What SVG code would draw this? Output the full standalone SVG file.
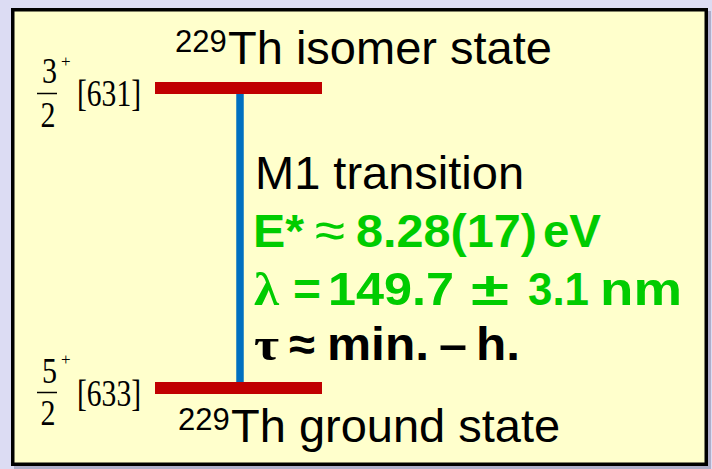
<svg xmlns="http://www.w3.org/2000/svg" width="712" height="469" viewBox="0 0 712 469">
<style>
.sans{font-family:"Liberation Sans",Arial,sans-serif;fill:#000}
.serif{font-family:"Liberation Serif","Times New Roman",serif;fill:#000}
.big{font-size:47px}
.sup{font-size:31px}
.b{font-weight:bold;font-size:46px}
.g{fill:#00cc00}
.spin{font-size:30px}
.plus{font-size:17px}
.bar{fill:#c00000}
.frac{stroke:#000;stroke-width:1.5}
</style>
<rect x="0" y="0" width="712" height="469" fill="#dcdcf3"/>
<rect x="14" y="11" width="697" height="458" fill="#9a9ab8" opacity="0.7"/>
<rect x="12.75" y="9.75" width="693.5" height="454.5" fill="#ffffcc" stroke="#000" stroke-width="3.5"/>

<g id="connectors">
  <line x1="240" y1="94" x2="240" y2="382" stroke="#0070c0" stroke-width="7.5"/>
</g>

<g id="isomer">
  <rect class="bar" x="155" y="82" width="167" height="12"/>
  <text class="sans sup" x="175" y="52">229</text>
  <text class="sans big" x="228" y="64">Th isomer state</text>
  <text class="serif spin" transform="translate(49.5,83) scale(1,1.22)" text-anchor="middle">3</text>
  <line class="frac" x1="37" y1="93.5" x2="57" y2="93.5"/>
  <text class="serif spin" transform="translate(48,127) scale(1,1.22)" text-anchor="middle">2</text>
  <text class="serif plus" x="61" y="67">+</text>
  <text class="serif spin" transform="translate(77,106) scale(1,1.28)" textLength="64" lengthAdjust="spacingAndGlyphs">[631]</text>
</g>

<g id="ground">
  <rect class="bar" x="155" y="382" width="167" height="12"/>
  <text class="sans sup" x="178" y="430">229</text>
  <text class="sans big" x="231" y="442">Th ground state</text>
  <text class="serif spin" transform="translate(49.5,383) scale(1,1.22)" text-anchor="middle">5</text>
  <line class="frac" x1="37" y1="392.5" x2="57" y2="392.5"/>
  <text class="serif spin" transform="translate(48,425) scale(1,1.22)" text-anchor="middle">2</text>
  <text class="serif plus" x="61" y="365">+</text>
  <text class="serif spin" transform="translate(77,406) scale(1,1.28)" textLength="64" lengthAdjust="spacingAndGlyphs">[633]</text>
</g>

<g id="transition-label">
  <text class="sans big" x="255" y="189">M1 transition</text>

  <text class="sans b g" x="253" y="247" textLength="51" lengthAdjust="spacingAndGlyphs">E*</text>
  <text class="sans g" x="315" y="248" font-size="52" textLength="30" lengthAdjust="spacingAndGlyphs">≈</text>
  <text class="sans b g" x="356" y="247" textLength="181" lengthAdjust="spacingAndGlyphs">8.28(17)</text>
  <text class="sans b g" x="543" y="247" textLength="58" lengthAdjust="spacingAndGlyphs">eV</text>

  <text class="serif b g" x="254" y="305" textLength="25" lengthAdjust="spacingAndGlyphs">λ</text>
  <text class="sans b g" x="293" y="305" textLength="28" lengthAdjust="spacingAndGlyphs">=</text>
  <text class="sans b g" x="328" y="305" textLength="126" lengthAdjust="spacingAndGlyphs">149.7</text>
  <text class="sans b g" x="471" y="305" textLength="38" lengthAdjust="spacingAndGlyphs">±</text>
  <text class="sans b g" x="528" y="305" textLength="61" lengthAdjust="spacingAndGlyphs">3.1</text>
  <text class="sans b g" x="600" y="305" textLength="82" lengthAdjust="spacingAndGlyphs">nm</text>

  <text class="serif b" x="254" y="360" textLength="25" lengthAdjust="spacingAndGlyphs">τ</text>
  <text class="sans b" x="289" y="360" textLength="26" lengthAdjust="spacingAndGlyphs">≈</text>
  <text class="sans b" x="327" y="360" textLength="102" lengthAdjust="spacingAndGlyphs">min.</text>
  <text class="sans b" x="439" y="360" textLength="28" lengthAdjust="spacingAndGlyphs">–</text>
  <text class="sans b" x="476" y="360" textLength="44" lengthAdjust="spacingAndGlyphs">h.</text>
</g>
</svg>
